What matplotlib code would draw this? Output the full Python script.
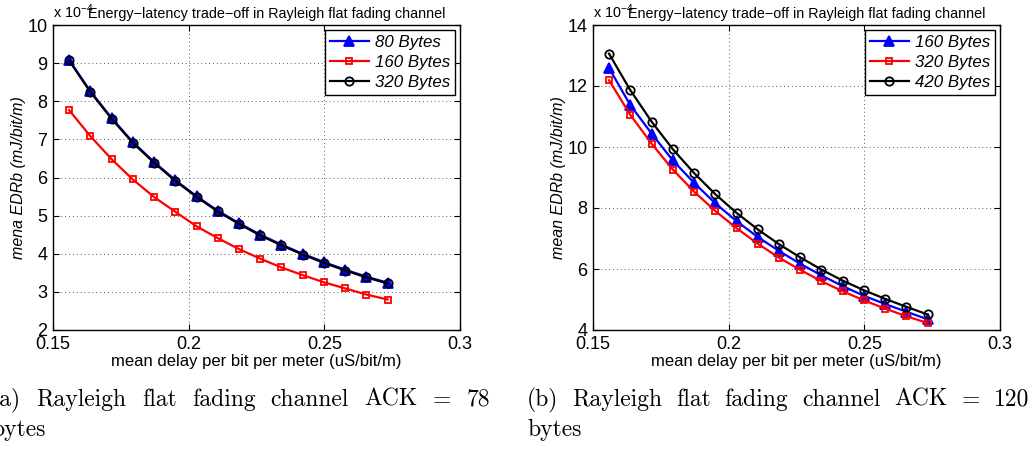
import matplotlib
matplotlib.use("Agg")
import matplotlib.pyplot as plt

# mean delay per bit per meter (uS/bit/m), shared by every curve
delay = [0.1559, 0.1637, 0.1716, 0.1794, 0.1872, 0.1951, 0.2029, 0.2107,
         0.2186, 0.2264, 0.2342, 0.2420, 0.2499, 0.2577, 0.2655, 0.2733]

# (a) ACK = 78 bytes, mean EDRb in units of 1e-4 mJ/bit/m
a_labels = ["80 Bytes", "160 Bytes", "320 Bytes"]
a_80 = [9.09, 8.27, 7.56, 6.93, 6.41, 5.93, 5.51, 5.13,
        4.80, 4.50, 4.24, 4.00, 3.78, 3.58, 3.40, 3.24]
a_160 = [7.77, 7.09, 6.48, 5.95, 5.49, 5.10, 4.72, 4.41,
         4.12, 3.87, 3.64, 3.44, 3.25, 3.09, 2.93, 2.80]
a_320 = [9.07, 8.25, 7.54, 6.91, 6.39, 5.91, 5.49, 5.11,
         4.78, 4.48, 4.22, 3.98, 3.76, 3.56, 3.38, 3.22]

# (b) ACK = 120 bytes
b_labels = ["160 Bytes", "320 Bytes", "420 Bytes"]
b_160 = [12.59, 11.38, 10.44, 9.56, 8.83, 8.15, 7.57, 7.05,
         6.59, 6.17, 5.79, 5.44, 5.12, 4.85, 4.60, 4.35]
b_320 = [12.19, 11.06, 10.11, 9.26, 8.54, 7.90, 7.34, 6.83,
         6.37, 5.97, 5.60, 5.27, 4.97, 4.70, 4.45, 4.23]
b_420 = [13.06, 11.87, 10.83, 9.93, 9.15, 8.45, 7.84, 7.30,
         6.81, 6.38, 5.98, 5.62, 5.30, 5.02, 4.76, 4.51]

x_ticks = [0.15, 0.2, 0.25, 0.3]
x_ticklabels = ["0.15", "0.2", "0.25", "0.3"]

title = "Energy\u2212latency trade\u2212off in Rayleigh flat fading channel"
xlabel = "mean delay per bit per meter (uS/bit/m)"
captions = [("(a) Rayleigh flat fading channel ACK = 78", "bytes"),
            ("(b) Rayleigh flat fading channel ACK = 120", "bytes")]

plt.rcParams["font.family"] = ["Liberation Sans", "DejaVu Sans"]
plt.rcParams["mathtext.fontset"] = "custom"
plt.rcParams["mathtext.rm"] = "Liberation Sans"

W, H = 1036, 455
fig = plt.figure(figsize=(W / 100, H / 100), dpi=100)


def px_axes(l, t, r, b):
    """ axes from pixel box (left, top, right, bottom) """
    return fig.add_axes([l / W, 1 - b / H, (r - l) / W, (b - t) / H])


def draw_panel(ax, series, labels, ylim, yticks, ylabel):
    styles = [dict(color="blue", marker="^", markersize=6.5),
              dict(color="red", marker="s", markersize=5, markerfacecolor="none"),
              dict(color="black", marker="o", markersize=6, markerfacecolor="none")]
    for y, lab, st in zip(series, labels, styles):
        ax.plot(delay, y, label=lab, linewidth=1.6, markeredgewidth=1.3, **st)
    ax.set_xlim(0.15, 0.3)
    ax.set_ylim(*ylim)
    ax.set_xticks(x_ticks)
    ax.set_xticklabels(x_ticklabels)
    ax.set_yticks(yticks)
    ax.tick_params(direction="in", top=True, right=True, labelsize=13,
                   length=4, width=0.8, pad=4)
    ax.grid(True, linestyle=(0, (1, 3)), color="0.35", linewidth=0.7)
    for s in ax.spines.values():
        s.set_linewidth(1.0)
    ax.set_xlabel(xlabel, fontsize=12, labelpad=1)
    ax.set_ylabel(ylabel, fontsize=11.5, style="italic", labelpad=1)
    leg = ax.legend(loc="upper right", prop=dict(size=12.2, style="italic"),
                    fancybox=False, edgecolor="black", framealpha=1,
                    borderaxespad=0.3, handlelength=2.3, labelspacing=0.28,
                    borderpad=0.3, handletextpad=0.35)
    leg.get_frame().set_linewidth(1.0)
    ax.text(0.0, 1.012, r"x 10$^{-4}$", transform=ax.transAxes, fontsize=10.4,
            ha="left", va="bottom")
    ax.text(0.085, 1.012, title, transform=ax.transAxes, fontsize=10.4,
            ha="left", va="bottom")


ax1 = px_axes(53, 25, 460, 330)
draw_panel(ax1, [a_80, a_160, a_320], a_labels, (2, 10), range(2, 11),
           "mena EDRb (mJ/bit/m)")

ax2 = px_axes(593, 25, 1000, 330)
draw_panel(ax2, [b_160, b_320, b_420], b_labels, (4, 14), range(4, 15, 2),
           "mean EDRb (mJ/bit/m)")


def justify(line, x0, x1, y, size):
    """ place the words of one caption line spread from x0 to x1 (pixels) """
    renderer = fig.canvas.get_renderer()
    words = line.split()
    texts = [fig.text(0, 1 - y / H, w, family="cmr10", fontsize=size,
                      ha="left", va="baseline") for w in words]
    widths = [t.get_window_extent(renderer).width for t in texts]
    gap = (x1 - x0 - sum(widths)) / (len(words) - 1)
    x = x0
    for t, w in zip(texts, widths):
        t.set_x(x / W)
        x += w + gap


size_cap = 17
justify(captions[0][0], -9, 490, 406, size_cap)
fig.text(-9 / W, 1 - 436 / H, captions[0][1], family="cmr10",
         fontsize=size_cap, ha="left", va="baseline")
justify(captions[1][0], 527, 1029, 406, size_cap)
fig.text(527 / W, 1 - 436 / H, captions[1][1], family="cmr10",
         fontsize=size_cap, ha="left", va="baseline")

fig.savefig("out.png", dpi=100)
